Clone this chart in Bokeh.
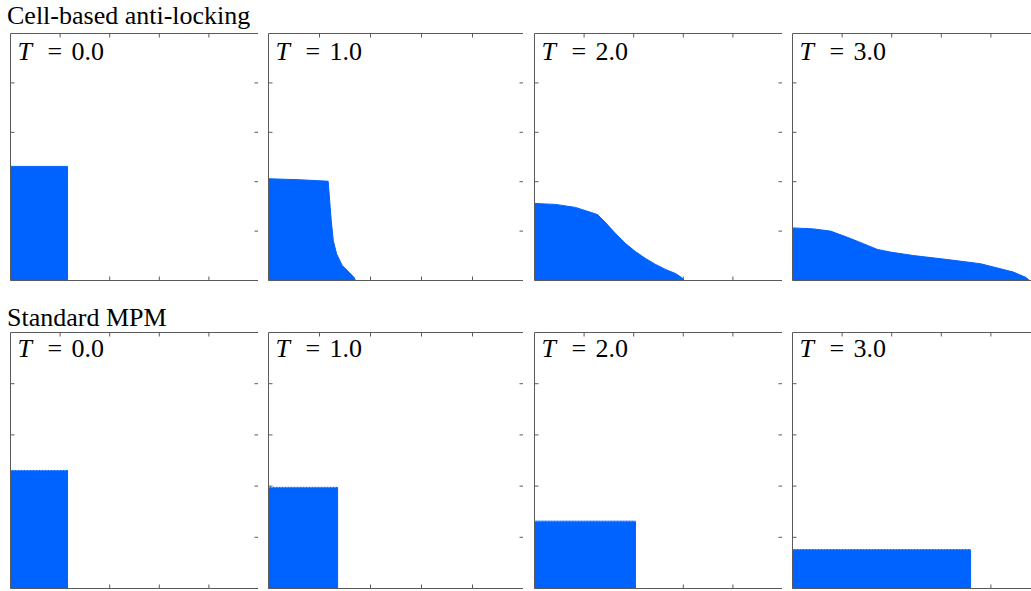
import math
from bokeh.plotting import figure
from bokeh.models import Div, Label, LinearAxis, FixedTicker, Range1d
from bokeh.layouts import column, row
from bokeh.embed import file_html
from bokeh.resources import INLINE

# ---------------- data ----------------
row_titles = ["Cell-based anti-locking", "Standard MPM"]
time_labels = ["0.0", "1.0", "2.0", "3.0"]
tick_values = [0.2, 0.4, 0.6, 0.8]

# Cell-based anti-locking: free-surface profile (left -> right), normalised domain
cb_T0_x = [0.0, 0.230, 0.230]
cb_T0_y = [0.462, 0.462, 0.0]
cb_T1_x = [0.0, 0.120, 0.234, 0.246, 0.254, 0.267, 0.289, 0.315, 0.335, 0.341]
cb_T1_y = [0.412, 0.408, 0.402, 0.243, 0.162, 0.108, 0.061, 0.034, 0.013, 0.0]
cb_T2_x = [0.0, 0.085, 0.165, 0.254, 0.286, 0.327, 0.367, 0.407, 0.448, 0.488, 0.528, 0.569, 0.593, 0.605]
cb_T2_y = [0.312, 0.308, 0.296, 0.267, 0.235, 0.190, 0.150, 0.117, 0.089, 0.065, 0.045, 0.028, 0.012, 0.0]
cb_T3_x = [0.0, 0.085, 0.153, 0.221, 0.286, 0.342, 0.395, 0.488, 0.624, 0.758, 0.825, 0.891, 0.940, 0.956]
cb_T3_y = [0.213, 0.209, 0.200, 0.175, 0.149, 0.126, 0.115, 0.101, 0.085, 0.068, 0.051, 0.034, 0.013, 0.0]
cb_x = [cb_T0_x, cb_T1_x, cb_T2_x, cb_T3_x]
cb_y = [cb_T0_y, cb_T1_y, cb_T2_y, cb_T3_y]

# Standard MPM: block width / height
std_w = [0.230, 0.271, 0.407, 0.718]
std_h = [0.461, 0.395, 0.263, 0.152]

# ---------------- style ----------------
BLUE = "#0062ff"
FRAME = "#5a5a5a"
SERIF = "Liberation Serif"

frame_widths = [248, 255, 248, 239]
left_borders = [10, 10, 11, 10]
x_max = [1.0, 1.0, 1.0, 239 / 248]


def make_panel(i, frame_h, top_b, bottom_b, label_dy):
    p = figure(frame_width=frame_widths[i], frame_height=frame_h,
               x_range=Range1d(0, x_max[i]), y_range=Range1d(0, 1),
               toolbar_location=None, output_backend="svg",
               x_axis_location=None, y_axis_location=None,
               min_border_left=left_borders[i], min_border_right=0,
               min_border_top=top_b, min_border_bottom=bottom_b)
    p.grid.visible = False
    p.outline_line_color = None
    p.background_fill_color = "white"
    p.border_fill_color = "white"
    # frame lines (axes without ticks / labels)
    locs = ["left", "above", "below"] + (["right"] if i < 3 else [])
    for loc in locs:
        ax = LinearAxis(ticker=FixedTicker(ticks=[]),
                        major_tick_in=0, major_tick_out=0,
                        minor_tick_in=0, minor_tick_out=0,
                        major_label_standoff=0,
                        axis_line_color=FRAME, axis_line_width=1)
        p.add_layout(ax, loc)
    # inward tick marks (dash markers centred on the frame edge, clipped)
    n = len(tick_values)
    p.scatter(tick_values, [0.0] * n, marker="dash", size=8, angle=math.pi / 2,
              line_color=FRAME, line_width=1)
    p.scatter(tick_values, [1.0] * n, marker="dash", size=8, angle=math.pi / 2,
              line_color=FRAME, line_width=1)
    p.scatter([0.0] * n, tick_values, marker="dash", size=8,
              line_color=FRAME, line_width=1)
    if i < 3:
        p.scatter([x_max[i]] * n, tick_values, marker="dash", size=8,
                  line_color=FRAME, line_width=1)
    common = dict(x=0, y=1, y_offset=-label_dy, text_font=SERIF,
                  text_font_size="26px", text_color="black",
                  text_baseline="alphabetic", text_align="left")
    p.add_layout(Label(x_offset=7, text="T", text_font_style="italic", **common))
    p.add_layout(Label(x_offset=37, text="=", **common))
    p.add_layout(Label(x_offset=61, text=time_labels[i], **common))
    return p


top_figs = []
for i in range(4):
    p = make_panel(i, 247, 1, 4, 18)
    xs = [0.0] + cb_x[i] + [0.0]
    ys = [cb_y[i][0]] + cb_y[i] + [0.0]
    p.patch(xs, ys, fill_color=BLUE, line_color=BLUE, line_width=1)
    top_figs.append(p)

bot_figs = []
for i in range(4):
    p = make_panel(i, 256, 1, 2, 16)
    p.quad(left=[0.0], right=[std_w[i]], bottom=[0.0], top=[std_h[i]],
           fill_color=BLUE, line_color=BLUE, line_width=1)
    p.line([0.0, std_w[i]], [std_h[i], std_h[i]], line_color="white",
           line_width=1, line_dash="1 2", line_alpha=0.6)
    bot_figs.append(p)

title_style = "font-family:'Liberation Serif';font-size:26px;line-height:16px;color:black;white-space:nowrap;"
div1 = Div(text=f'<div style="{title_style}padding-top:8px;padding-left:7px">{row_titles[0]}</div>',
           width=1031, height=32, margin=0)
div2 = Div(text=f'<div style="{title_style}padding-top:26px;padding-left:7px">{row_titles[1]}</div>',
           width=1031, height=47, margin=0)

layout = column(div1, row(*top_figs, spacing=0), div2, row(*bot_figs, spacing=0), spacing=0)

open("out.html", "w").write(file_html(layout, INLINE))
